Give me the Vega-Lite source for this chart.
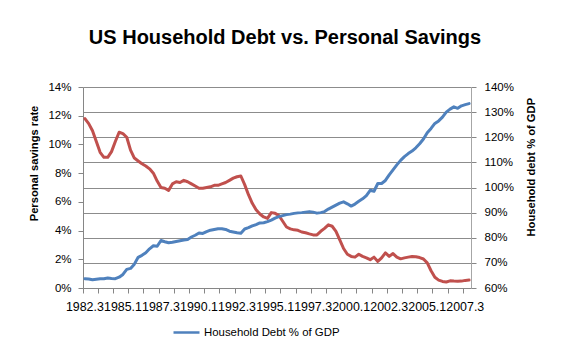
{
  "$schema": "https://vega.github.io/schema/vega-lite/v6.json",
  "autosize": "none",
  "width": 388,
  "height": 201,
  "padding": {"left": 83, "top": 87, "right": 90, "bottom": 73},
  "background": "white",
  "config": {"view": {"stroke": null}, "font": "Liberation Sans"},
  "title": {"text": "US Household Debt vs. Personal Savings", "font": "Liberation Sans", "fontSize": 20, "fontWeight": "bold", "color": "#000000", "anchor": "middle", "dx": 8, "baseline": "alphabetic", "offset": 17},
  "data": {"values": [
    {"q":"1982.3","s":11.8,"d":63.7},{"q":"1982.4","s":11.45,"d":63.6},{"q":"1983.1","s":10.95,"d":63.3},{"q":"1983.2","s":10.2,"d":63.5},
    {"q":"1983.3","s":9.45,"d":63.7},{"q":"1983.4","s":9.1,"d":63.7},{"q":"1984.1","s":9.1,"d":64.0},{"q":"1984.2","s":9.5,"d":63.8},
    {"q":"1984.3","s":10.2,"d":63.7},{"q":"1984.4","s":10.85,"d":64.3},{"q":"1985.1","s":10.75,"d":65.4},{"q":"1985.2","s":10.5,"d":67.4},
    {"q":"1985.3","s":9.6,"d":67.8},{"q":"1985.4","s":9.05,"d":69.5},{"q":"1986.1","s":8.85,"d":72.2},{"q":"1986.2","s":8.65,"d":73.0},
    {"q":"1986.3","s":8.5,"d":74.0},{"q":"1986.4","s":8.3,"d":75.6},{"q":"1987.1","s":8.0,"d":76.8},{"q":"1987.2","s":7.45,"d":76.6},
    {"q":"1987.3","s":7.0,"d":78.9},{"q":"1987.4","s":6.95,"d":78.4},{"q":"1988.1","s":6.8,"d":78.0},{"q":"1988.2","s":7.25,"d":78.2},
    {"q":"1988.3","s":7.4,"d":78.5},{"q":"1988.4","s":7.35,"d":78.8},{"q":"1989.1","s":7.5,"d":79.1},{"q":"1989.2","s":7.4,"d":79.3},
    {"q":"1989.3","s":7.25,"d":80.3},{"q":"1989.4","s":7.1,"d":81.0},{"q":"1990.1","s":6.95,"d":81.9},{"q":"1990.2","s":6.95,"d":81.7},
    {"q":"1990.3","s":7.0,"d":82.4},{"q":"1990.4","s":7.05,"d":83.0},{"q":"1991.1","s":7.15,"d":83.3},{"q":"1991.2","s":7.15,"d":83.6},
    {"q":"1991.3","s":7.25,"d":83.6},{"q":"1991.4","s":7.35,"d":83.3},{"q":"1992.1","s":7.5,"d":82.6},{"q":"1992.2","s":7.65,"d":82.3},
    {"q":"1992.3","s":7.75,"d":82.0},{"q":"1992.4","s":7.8,"d":81.8},{"q":"1993.1","s":7.2,"d":83.5},{"q":"1993.2","s":6.5,"d":84.0},
    {"q":"1993.3","s":5.9,"d":84.7},{"q":"1993.4","s":5.45,"d":85.2},{"q":"1994.1","s":5.15,"d":85.9},{"q":"1994.2","s":4.95,"d":86.0},
    {"q":"1994.3","s":4.85,"d":86.4},{"q":"1994.4","s":5.25,"d":87.0},{"q":"1995.1","s":5.2,"d":87.8},{"q":"1995.2","s":5.05,"d":88.4},
    {"q":"1995.3","s":4.65,"d":88.8},{"q":"1995.4","s":4.25,"d":89.2},{"q":"1996.1","s":4.12,"d":89.4},{"q":"1996.2","s":4.05,"d":89.7},
    {"q":"1996.3","s":4.02,"d":89.9},{"q":"1996.4","s":3.9,"d":90.0},{"q":"1997.1","s":3.85,"d":90.2},{"q":"1997.2","s":3.77,"d":90.4},
    {"q":"1997.3","s":3.7,"d":90.2},{"q":"1997.4","s":3.7,"d":89.8},{"q":"1998.1","s":3.95,"d":90.0},{"q":"1998.2","s":4.15,"d":90.4},
    {"q":"1998.3","s":4.4,"d":91.4},{"q":"1998.4","s":4.3,"d":92.2},{"q":"1999.1","s":3.95,"d":93.0},{"q":"1999.2","s":3.35,"d":93.8},
    {"q":"1999.3","s":2.75,"d":94.3},{"q":"1999.4","s":2.35,"d":93.5},{"q":"2000.1","s":2.2,"d":92.6},{"q":"2000.2","s":2.15,"d":93.4},
    {"q":"2000.3","s":2.35,"d":94.5},{"q":"2000.4","s":2.2,"d":95.5},{"q":"2001.1","s":2.1,"d":96.8},{"q":"2001.2","s":1.97,"d":98.9},
    {"q":"2001.3","s":2.15,"d":98.5},{"q":"2001.4","s":1.85,"d":101.6},{"q":"2002.1","s":2.1,"d":101.6},{"q":"2002.2","s":2.45,"d":102.8},
    {"q":"2002.3","s":2.2,"d":105.0},{"q":"2002.4","s":2.4,"d":107.0},{"q":"2003.1","s":2.15,"d":109.0},{"q":"2003.2","s":2.03,"d":110.8},
    {"q":"2003.3","s":2.1,"d":112.3},{"q":"2003.4","s":2.15,"d":113.5},{"q":"2004.1","s":2.2,"d":114.5},{"q":"2004.2","s":2.18,"d":115.8},
    {"q":"2004.3","s":2.12,"d":117.4},{"q":"2004.4","s":2.02,"d":119.3},{"q":"2005.1","s":1.75,"d":121.8},{"q":"2005.2","s":1.2,"d":123.5},
    {"q":"2005.3","s":0.75,"d":125.5},{"q":"2005.4","s":0.55,"d":126.5},{"q":"2006.1","s":0.46,"d":128.0},{"q":"2006.2","s":0.42,"d":130.0},
    {"q":"2006.3","s":0.5,"d":131.2},{"q":"2006.4","s":0.48,"d":132.1},{"q":"2007.1","s":0.47,"d":131.5},{"q":"2007.2","s":0.48,"d":132.5},
    {"q":"2007.3","s":0.53,"d":133.0},{"q":"2007.4","s":0.55,"d":133.4}
  ]},
  "layer": [
    {
      "mark": {"type": "line", "color": "#C0504D", "strokeWidth": 3, "strokeJoin": "round", "strokeCap": "round"},
      "encoding": {
        "x": {"field": "q", "type": "ordinal", "bandPosition": 0.5,
          "scale": {"type": "band", "paddingInner": 0, "paddingOuter": 0},
          "axis": {"orient": "bottom", "title": null, "labels": false, "ticks": true, "tickSize": 5, "tickColor": "#868686", "domain": true, "domainColor": "#868686", "grid": false, "bandPosition": 0,
            "values": ["1982.3","1983.3","1984.3","1985.3","1986.3","1987.3","1988.3","1989.3","1990.3","1991.3","1992.3","1993.3","1994.3","1995.3","1996.3","1997.3","1998.3","1999.3","2000.3","2001.3","2002.3","2003.3","2004.3","2005.3","2006.3","2007.3"]}},
        "y": {"field": "s", "type": "quantitative",
          "scale": {"domain": [0, 14], "nice": false, "zero": false},
          "axis": {"orient": "left", "values": [0,2,4,6,8,10,12,14], "labelExpr": "datum.value + '%'", "grid": false,
            "tickSize": 5, "tickColor": "#868686", "domainColor": "#868686", "labelPadding": 7, "labelFont": "Liberation Sans", "labelFontSize": 11.5, "labelColor": "#000000",
            "title": "Personal savings rate", "titleFont": "Liberation Sans", "titleFontSize": 11.2, "titleFontWeight": "bold", "titleColor": "#000000",
            "titleAngle": -90, "titleAlign": "center", "titleBaseline": "middle", "titleX": -48.6, "titleY": 76}}
      }
    },
    {
      "mark": {"type": "line", "strokeWidth": 3, "strokeJoin": "round", "strokeCap": "round"},
      "encoding": {
        "x": {"field": "q", "type": "ordinal", "bandPosition": 0.5,
          "scale": {"type": "band", "paddingInner": 0, "paddingOuter": 0},
          "axis": {"orient": "bottom", "title": null, "ticks": false, "tickSize": 0, "domain": false, "grid": false, "bandPosition": 0.5,
            "labelAngle": 0, "labelOverlap": false, "labelFlush": false, "labelBound": false, "labelPadding": 12, "labelBaseline": "top",
            "labelFont": "Liberation Sans", "labelFontSize": 12.4, "labelColor": "#000000",
            "values": ["1982.3","1985.1","1987.3","1990.1","1992.3","1995.1","1997.3","2000.1","2002.3","2005.1","2007.3"]}},
        "y": {"field": "d", "type": "quantitative",
          "scale": {"domain": [60, 140], "nice": false, "zero": false},
          "axis": {"orient": "right", "values": [60,70,80,90,100,110,120,130,140], "labelExpr": "datum.value + '%'", "grid": true, "gridColor": "#8c8c8c", "gridWidth": 1,
            "tickSize": 5, "tickColor": "#868686", "domainColor": "#a6a6a6", "labelPadding": 8, "labelFont": "Liberation Sans", "labelFontSize": 11.5, "labelColor": "#000000",
            "title": "Household debt % of GDP", "titleFont": "Liberation Sans", "titleFontSize": 11.2, "titleFontWeight": "bold", "titleColor": "#000000",
            "titleAngle": -90, "titleAlign": "center", "titleBaseline": "middle", "titleX": 60, "titleY": 79.7}},
        "color": {"datum": "Household Debt % of GDP", "type": "nominal", "scale": {"range": ["#4F81BD"]},
          "legend": {"title": null, "orient": "none", "legendX": 89, "legendY": 231, "padding": 0, "offset": 0,
            "symbolType": "stroke", "symbolSize": 676, "symbolStrokeWidth": 2.5, "symbolStrokeColor": "#5475a0", "labelOffset": 3,
            "labelFont": "Liberation Sans", "labelFontSize": 11.4, "labelColor": "#000000"}}
      }
    }
  ],
  "resolve": {"scale": {"y": "independent"}, "axis": {"x": "independent", "y": "independent"}}
}
